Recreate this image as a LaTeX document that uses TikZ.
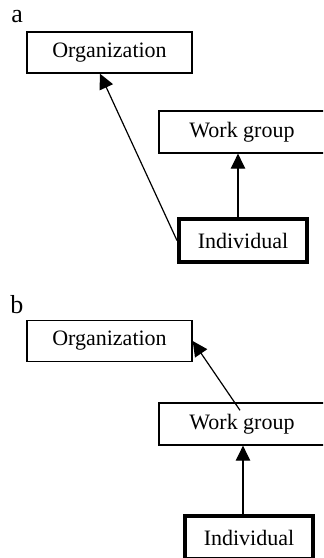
\documentclass[tikz,border=0pt]{standalone}
\usepackage{fontspec}
\setmainfont{Liberation Serif}
\usetikzlibrary{arrows.meta}
\begin{document}
\begin{tikzpicture}[x=0.5pt,y=-0.5pt,
  box/.style={draw, line width=0.7pt, inner sep=0pt, font=\fontsize{11}{13}\selectfont},
  orgbox/.style={box, minimum width=82.5pt, minimum height=20.5pt},
  wgbox/.style={box, minimum width=83pt, minimum height=21pt},
  indbox/.style={box, line width=2.2pt, minimum width=63.8pt, minimum height=21.3pt},
  panel/.style={font=\fontsize{13}{15}\selectfont, inner sep=0pt, anchor=base west},
  link/.style={line width=0.6pt, -{Triangle[length=7.5pt, width=7.3pt]}}
]
\path[use as bounding box, clip] (0,0) rectangle (323,558);

% panel a
\node[panel] (la) at (11,22) {a};
\node[orgbox] (orga) at (109.5,52.5) {Organization};
\node[wgbox] (wga) at (242,132) {Work group};
\node[indbox] (inda) at (243,240.5) {Individual};
\draw[link] (inda.west) -- (orga.south -| 100,0);
\draw[link] (inda.north -| 238,0) -- (wga.south -| 238,0);

% panel b
\node[panel] (lb) at (10,313) {b};
\node[orgbox] (orgb) at (109.5,341) {Organization};
\node[wgbox] (wgb) at (242,424) {Work group};
\node[indbox] (indb) at (249,537.5) {Individual};
\draw[link] ([shift={(-2,8)}]wgb.north) -- (orgb.east);
\draw[link] (indb.north -| 243,0) -- (wgb.south -| 243,0);
\end{tikzpicture}
\end{document}
